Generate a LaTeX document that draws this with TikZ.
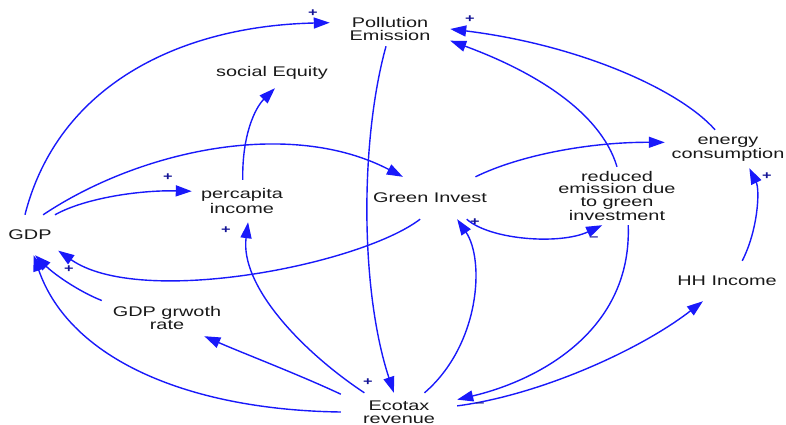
\documentclass[tikz,border=0pt]{standalone}
\usepackage{fontspec}
\setmainfont{Liberation Sans}[FakeStretch=1.42]
\usetikzlibrary{arrows.meta}

\definecolor{linkblue}{RGB}{25,25,250}
\definecolor{signblue}{RGB}{20,20,150}
\definecolor{vartext}{RGB}{25,25,25}

\tikzset{
  var/.style={font=\fontsize{14}{12.8}\selectfont, text=vartext, align=center, inner sep=0pt},
  link/.style={draw=linkblue, line width=1.4pt, -{Triangle[length=16pt,width=11pt]}},
  sign/.style={font=\fontsize{11.5}{11.5}\selectfont\bfseries, text=signblue, inner sep=0pt},
}

\begin{document}
\begin{tikzpicture}[x=1pt,y=-1pt]
\useasboundingbox (0,0) rectangle (786,425);

% variables
\node[var, minimum width=120pt, minimum height=34pt] (pe)  at (390,29)  {Pollution\\Emission};
\node[var, minimum width=120pt, minimum height=30pt] (se)  at (272,73)  {social Equity};
\node[var, minimum width=100pt, minimum height=42pt] (pci) at (242,201) {percapita\\income};
\node[var, minimum width=130pt, minimum height=42pt] (gi)  at (430,198) {Green Invest};
\node[var, minimum width=126pt, minimum height=38pt] (ec)  at (728,149) {energy\\consumption};
\node[var, minimum width=130pt, minimum height=58pt] (re)  at (617,196) {reduced\\emission due\\to green\\investment};
\node[var, minimum width=56pt,  minimum height=40pt] (gdp) at (30,235)  {GDP};
\node[var, minimum width=110pt, minimum height=40pt] (hh)  at (727,281) {HH Income};
\node[var, minimum width=130pt, minimum height=36pt] (ggr) at (167,318) {GDP grwoth\\rate};
\node[var, minimum width=116pt, minimum height=38pt] (et)  at (399,412) {Ecotax\\revenue};

% causal links
\draw[link] (gdp.104) .. controls (58,85) and (180,26) .. (pe.174);
\draw[link] (gdp.57) .. controls (140,150) and (290,118) .. (gi.142);
\draw[link] (gdp.39) .. controls (85,198) and (140,190) .. (pci.169);
\draw[link] (pci.88) .. controls (242,135) and (255,108) .. (se.281);
\draw[link] (gi.245) .. controls (360,265) and (140,308) .. (gdp.331);
\draw[link] (ggr.165) .. controls (80,292) and (55,275) .. (gdp.284);
\draw[link] (et.180) .. controls (190,410) and (70,360) .. (gdp.280);
\draw[link] (et.163) .. controls (300,375) and (240,352) .. (ggr.334);
\draw[link] (et.151) .. controls (300,350) and (240,285) .. (pci.286);
\draw[link] (pe.257) .. controls (360,140) and (360,290) .. (et.105);
\draw[link] (et.37) .. controls (480,345) and (485,260) .. (gi.322);
\draw[link] (gi.330) .. controls (490,240) and (560,245) .. (re.243);
\draw[link] (gi.25) .. controls (520,155) and (590,142) .. (ec.174);
\draw[link] (re.90) .. controls (600,110) and (530,70) .. (pe.-11);
\draw[link] (ec.124) .. controls (680,90) and (580,45) .. (pe.0);
\draw[link] (re.291) .. controls (632,330) and (540,380) .. (et.12);
\draw[link] (et.6) .. controls (540,395) and (640,350) .. (hh.220);
\draw[link] (hh.53) .. controls (758,230) and (760,190) .. (ec.318);

% link polarities
\node[sign] (s1)  at (313,13)  {+};
\node[sign] (s2)  at (470,19)  {+};
\node[sign] (s3)  at (168,177) {+};
\node[sign] (s4)  at (226,230) {+};
\node[sign] (s5)  at (69,269)  {+};
\node[sign] (s6)  at (475,222) {+};
\node[sign] (s7)  at (594,239) {–};
\node[sign] (s8)  at (368,382) {+};
\node[sign] (s9)  at (480,405) {–};
\node[sign] (s10) at (767,176) {+};
\end{tikzpicture}
\end{document}
